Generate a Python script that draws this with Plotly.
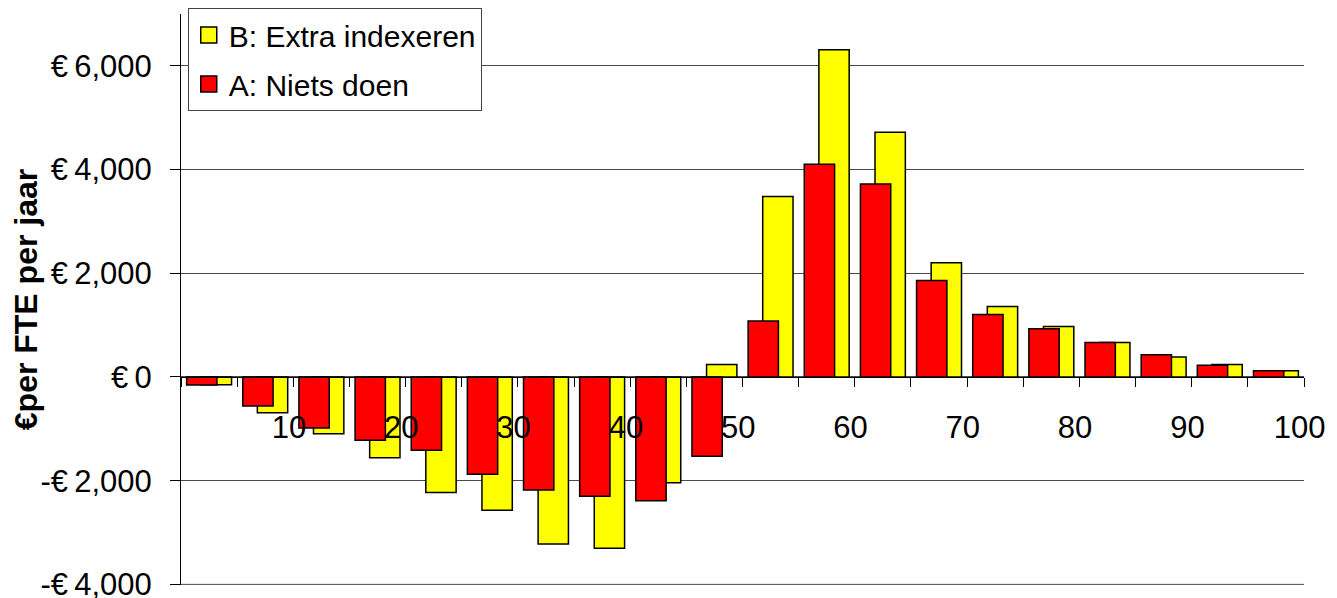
import plotly.graph_objects as go

# Age groups (5-year bins), centres used on a numeric axis
age_start = [0, 5, 10, 15, 20, 25, 30, 35, 40, 45, 50, 55, 60, 65, 70, 75, 80, 85, 90, 95]
age_center = [a + 2.5 for a in age_start]

series_a_name = "A: Niets doen"
series_a = [-155, -560, -985, -1220, -1415, -1875, -2180, -2300, -2385, -1530,
            1080, 4100, 3720, 1860, 1205, 930, 665, 430, 225, 120]

series_b_name = "B: Extra indexeren"
series_b = [-150, -690, -1095, -1560, -2230, -2570, -3220, -3305, -2040, 240,
            3480, 6310, 4720, 2205, 1360, 975, 665, 385, 240, 120]

x_tickvals = list(range(0, 101, 5))
x_ticktext = [(str(v) + "\u00a0") if (v % 10 == 0 and v > 0) else "" for v in x_tickvals]

y_tickvals = [-4000, -2000, 0, 2000, 4000, 6000]
y_ticktext = ["-€\u20094,000", "-€\u20092,000", "€\u20090", "€\u20092,000", "€\u20094,000", "€\u20096,000"]

FONT = "Liberation Sans, Arial, sans-serif"
YELLOW = "#FFFF00"
RED = "#FF0000"
GRID = "#4a4a4a"
Y_MIN, Y_MAX = -4012, 7000

fig = go.Figure()
fig.add_trace(go.Bar(
    x=age_center, y=series_b, name=series_b_name,
    width=2.7, offset=-0.7,
    marker=dict(color=YELLOW, line=dict(color="black", width=1.5)),
    showlegend=False,
))
fig.add_trace(go.Bar(
    x=age_center, y=series_a, name=series_a_name,
    width=2.7, offset=-2.0,
    marker=dict(color=RED, line=dict(color="black", width=1.5)),
    showlegend=False,
))
# legend entries (larger square swatches like the original)
for nm, col, grp in [(series_b_name, YELLOW, "b"), (series_a_name, RED, "a")]:
    fig.add_trace(go.Scatter(
        x=[None], y=[None], mode="markers", name=nm, legendgroup=grp,
        marker=dict(symbol="square", size=16, color=col, line=dict(color="black", width=1.5)),
        showlegend=True,
    ))

# bottom gridline (plotly drops the grid line at the range edge)
fig.add_shape(type="line", xref="paper", x0=0, x1=1, yref="y", y0=y_tickvals[0], y1=y_tickvals[0],
              line=dict(color=GRID, width=1), layer="below")

fig.update_layout(
    width=1329, height=590,
    margin=dict(l=173, r=33, t=6, b=13, autoexpand=False),
    paper_bgcolor="white", plot_bgcolor="white",
    barmode="overlay",
    font=dict(family=FONT, color="black", size=30),
    showlegend=True,
    legend=dict(
        x=0.006, y=1.0105, xanchor="left", yanchor="top",
        bgcolor="white", bordercolor="#444444", borderwidth=1,
        font=dict(family=FONT, size=30, color="black"),
        traceorder="grouped", tracegroupgap=7,
        itemsizing="trace",
    ),
    xaxis=dict(
        range=[0, 100], tickmode="array", tickvals=x_tickvals, ticktext=x_ticktext,
        anchor="free", position=(0 - Y_MIN) / (Y_MAX - Y_MIN),
        showline=True, linecolor="black", linewidth=1,
        ticks="outside", ticklen=9, tickcolor="black", tickwidth=1,
        showgrid=False, zeroline=False,
        tickfont=dict(family=FONT, size=31, color="black"),
        ticklabelstandoff=14,
    ),
    yaxis=dict(
        range=[Y_MIN, Y_MAX], tickmode="array", tickvals=y_tickvals, ticktext=y_ticktext,
        showline=True, linecolor="black", linewidth=1,
        ticks="outside", ticklen=10, tickcolor="black", tickwidth=1,
        showgrid=True, gridcolor=GRID, gridwidth=1,
        zeroline=False,
        tickfont=dict(family=FONT, size=31, color="black"),
        ticklabelstandoff=12,
        ticklabeloverflow="allow",
        title=dict(text="<b>€per FTE per jaar</b>", font=dict(family=FONT, size=32, color="black"), standoff=0),
        automargin=False,
    ),
)

fig.write_html("out.html")
